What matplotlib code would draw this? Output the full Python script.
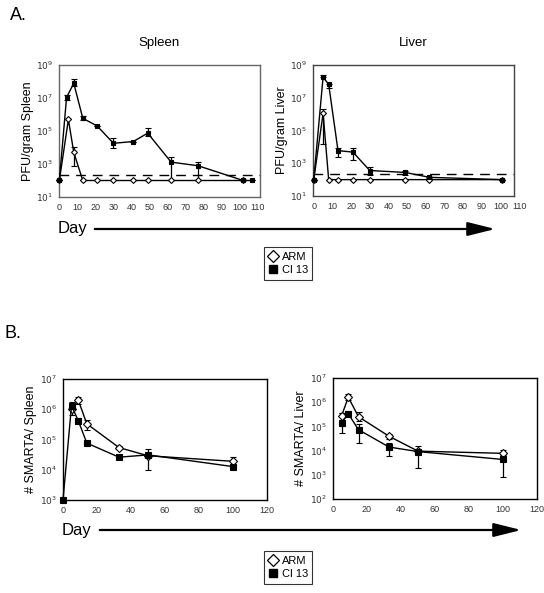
import matplotlib
matplotlib.use("Agg")
import matplotlib.pyplot as plt
from matplotlib.lines import Line2D
from matplotlib.patches import FancyArrowPatch
from matplotlib.ticker import FixedLocator, FuncFormatter
import numpy as np

plt.rcParams['font.family'] = ['Liberation Sans', 'DejaVu Sans']

# ---------------- Data ----------------
# Panel A: viral titers (PFU/gram)
a_spl_cl13_day = [0, 4, 8, 13, 21, 30, 41, 49, 62, 77, 102, 107]
a_spl_cl13_val = [100, 1.1e7, 7.8e7, 5.9e5, 2.0e5, 1.8e4, 2.3e4, 7.4e4, 1.3e3, 780, 100, 100]
a_spl_cl13_hi  = [100, 1.6e7, 1.35e8, 8.0e5, 2.0e5, 3.6e4, 2.3e4, 1.5e5, 2.5e3, 1.35e3, 100, 100]
a_spl_cl13_lo  = [100, 8.0e6, 5.0e7, 4.5e5, 2.0e5, 9.0e3, 2.3e4, 5.0e4, 100, 100, 100, 100]

a_spl_arm_day = [0, 5, 8, 13, 21, 30, 41, 49, 62, 77, 102]
a_spl_arm_val = [100, 5.0e5, 5.0e3, 100, 100, 100, 100, 100, 100, 100, 100]
a_spl_arm_hi  = [100, 5.0e5, 1.0e4, 100, 100, 100, 100, 100, 100, 100, 100]
a_spl_arm_lo  = [100, 5.0e5, 780, 100, 100, 100, 100, 100, 100, 100, 100]

a_liv_cl13_day = [0, 5, 8, 13, 21, 30, 49, 62, 101]
a_liv_cl13_val = [100, 1.8e8, 6.6e7, 5.9e3, 4.8e3, 360, 275, 138, 100]
a_liv_cl13_hi  = [100, 2.45e8, 6.6e7, 8.0e3, 8.0e3, 560, 350, 150, 100]
a_liv_cl13_lo  = [100, 1.8e8, 3.7e7, 2.5e3, 1.5e3, 200, 190, 120, 100]

a_liv_arm_day = [0, 5, 8, 13, 21, 30, 49, 62, 101]
a_liv_arm_val = [100, 1.1e6, 100, 100, 100, 100, 100, 100, 100]
a_liv_arm_hi  = [100, 2.2e6, 100, 100, 100, 100, 100, 100, 100]
a_liv_arm_lo  = [100, 1.6e4, 100, 100, 100, 100, 100, 100, 100]

a_spl_limit = 220
a_liv_limit = 210

# Panel B: SMARTA cell numbers
b_spl_cl13_day = [0, 5, 9, 14, 33, 50, 100]
b_spl_cl13_val = [1.0e3, 1.3e6, 4.2e5, 7.6e4, 2.6e4, 3.1e4, 1.27e4]
b_spl_cl13_hi  = [1.0e3, 1.75e6, 5.0e5, 7.6e4, 2.6e4, 5.0e4, 1.27e4]
b_spl_cl13_lo  = [1.0e3, 1.0e6, 3.5e5, 7.6e4, 2.6e4, 1.0e4, 1.27e4]

b_spl_arm_day = [5, 9, 14, 33, 50, 100]
b_spl_arm_val = [1.0e6, 2.0e6, 3.3e5, 5.4e4, 2.9e4, 1.9e4]
b_spl_arm_hi  = [1.0e6, 2.6e6, 4.3e5, 6.3e4, 2.9e4, 2.6e4]
b_spl_arm_lo  = [6.5e5, 1.5e6, 2.1e5, 4.8e4, 2.9e4, 1.5e4]

b_liv_cl13_day = [5, 9, 15, 33, 50, 100]
b_liv_cl13_val = [1.4e5, 3.3e5, 7.3e4, 1.4e4, 9.1e3, 4.3e3]
b_liv_cl13_hi  = [3.5e5, 4.2e5, 1.2e5, 2.1e4, 1.6e4, 6.3e3]
b_liv_cl13_lo  = [5.4e4, 3.3e5, 2.1e4, 5.8e3, 1.9e3, 8.0e2]

b_liv_arm_day = [5, 9, 15, 33, 50, 100]
b_liv_arm_val = [2.7e5, 1.6e6, 2.5e5, 3.9e4, 9.5e3, 7.7e3]
b_liv_arm_hi  = [3.5e5, 2.1e6, 4.0e5, 5.0e4, 9.5e3, 1.1e4]
b_liv_arm_lo  = [2.7e5, 1.2e6, 1.6e5, 3.0e4, 9.5e3, 5.5e3]

W, H = 544, 593
fig = plt.figure(figsize=(W / 100, H / 100), dpi=100)
fig.patch.set_facecolor('white')


def px_axes(l, t, r, b):
    return fig.add_axes([l / W, 1 - b / H, (r - l) / W, (b - t) / H])


def sup_fmt(v, pos):
    e = int(round(np.log10(v)))
    return r'$10^{%d}$' % e


def style_axes(ax, xlim, xticks, ylim, yticks, ylabel, spine_color, ylabpad):
    ax.set_yscale('log')
    ax.set_xlim(*xlim)
    ax.set_ylim(*ylim)
    ax.xaxis.set_major_locator(FixedLocator(xticks))
    ax.yaxis.set_major_locator(FixedLocator(yticks))
    ax.yaxis.set_minor_locator(FixedLocator([]))
    ax.yaxis.set_major_formatter(FuncFormatter(sup_fmt))
    ax.tick_params(length=0, labelsize=6.5, colors='#333333', pad=4)
    for s in ax.spines.values():
        s.set_color(spine_color)
        s.set_linewidth(1.0)
    ax.set_ylabel(ylabel, fontsize=9, labelpad=ylabpad)


def series(ax, day, val, hi, lo, marker, filled, ms):
    val = np.array(val, float)
    yerr = np.vstack([val - np.array(lo, float), np.array(hi, float) - val])
    ax.errorbar(day, val, yerr=yerr, color='black', lw=1.0, elinewidth=0.9,
                capsize=2, capthick=0.9, marker=marker, ms=ms,
                mfc='black' if filled else 'white', mec='black', mew=0.8,
                clip_on=False, zorder=3)


# ---- Panel A spleen ----
ax1 = px_axes(59, 65, 260, 197)
ax1.axhline(a_spl_limit, color='black', lw=1.0, dashes=(7, 5), zorder=1)
series(ax1, a_spl_arm_day, a_spl_arm_val, a_spl_arm_hi, a_spl_arm_lo, 'D', False, 3)
series(ax1, a_spl_cl13_day, a_spl_cl13_val, a_spl_cl13_hi, a_spl_cl13_lo, 's', True, 3.5)
style_axes(ax1, (-0.2, 111.3), list(range(0, 111, 10)), (10, 1e9),
           [1e1, 1e3, 1e5, 1e7, 1e9], 'PFU/gram Spleen', '#666666', 2)
ax1.set_title('Spleen', fontsize=9.5, pad=14)

# ---- Panel A liver ----
ax2 = px_axes(313, 65, 514, 196)
ax2.axhline(a_liv_limit, color='black', lw=1.0, dashes=(7, 5), zorder=1)
series(ax2, a_liv_arm_day, a_liv_arm_val, a_liv_arm_hi, a_liv_arm_lo, 'D', False, 3)
series(ax2, a_liv_cl13_day, a_liv_cl13_val, a_liv_cl13_hi, a_liv_cl13_lo, 's', True, 3.5)
style_axes(ax2, (-0.4, 107.3), list(range(0, 101, 10)), (10, 1e9),
           [1e1, 1e3, 1e5, 1e7, 1e9], 'PFU/gram Liver', '#444444', 2)
ax2.annotate('110', xy=(110, 0), xycoords=ax2.get_xaxis_transform(),
             xytext=(0, -4), textcoords='offset points', ha='center', va='top',
             fontsize=6.5, color='#333333', annotation_clip=False)
ax2.set_title('Liver', fontsize=9.5, pad=14)

# ---- Panel B spleen ----
ax3 = px_axes(63, 379, 267, 500)
series(ax3, b_spl_arm_day, b_spl_arm_val, b_spl_arm_hi, b_spl_arm_lo, 'D', False, 4)
series(ax3, b_spl_cl13_day, b_spl_cl13_val, b_spl_cl13_hi, b_spl_cl13_lo, 's', True, 4)
style_axes(ax3, (0, 120), list(range(0, 121, 20)), (1e3, 1e7),
           [1e3, 1e4, 1e5, 1e6, 1e7], '# SMARTA/ Spleen', 'black', 2)

# ---- Panel B liver ----
ax4 = px_axes(333, 378, 537, 499)
series(ax4, b_liv_arm_day, b_liv_arm_val, b_liv_arm_hi, b_liv_arm_lo, 'D', False, 4)
series(ax4, b_liv_cl13_day, b_liv_cl13_val, b_liv_cl13_hi, b_liv_cl13_lo, 's', True, 4)
style_axes(ax4, (0, 120), list(range(0, 121, 20)), (1e2, 1e7),
           [1e2, 1e3, 1e4, 1e5, 1e6, 1e7], '# SMARTA/ Liver', 'black', 2)

# ---- Panel letters ----
fig.text(10 / W, 1 - 15 / H, 'A.', fontsize=13, va='center', ha='left')
fig.text(5 / W, 1 - 333 / H, 'B.', fontsize=13, va='center', ha='left')

# ---- Day arrows ----
for (x0, x1, y, tx) in [(92, 498, 229, 58), (97, 524, 530, 62)]:
    fig.text(tx / W, 1 - y / H, 'Day', fontsize=12, va='center', ha='left')
    arr = FancyArrowPatch((x0 / W, 1 - y / H), (x1 / W, 1 - y / H),
                          transform=fig.transFigure,
                          arrowstyle='-|>,head_length=1.4,head_width=0.35',
                          mutation_scale=12, lw=1.6, color='black')
    fig.add_artist(arr)

# ---- Legends ----
handles = [Line2D([], [], ls='none', marker='D', ms=6, mfc='white', mec='black', mew=0.9),
           Line2D([], [], ls='none', marker='s', ms=6, mfc='black', mec='black')]
labels = ['ARM', 'Cl 13']
for cy in [263.5, 567.5]:
    leg = fig.legend(handles, labels, loc='center', bbox_to_anchor=(288 / W, 1 - cy / H),
                     fontsize=8, frameon=True, fancybox=False, edgecolor='black',
                     handlelength=0.8, handletextpad=0.4, borderpad=0.4,
                     labelspacing=0.3, borderaxespad=0)
    leg.get_frame().set_linewidth(0.8)

fig.savefig('out.png', dpi=100, facecolor='white')
